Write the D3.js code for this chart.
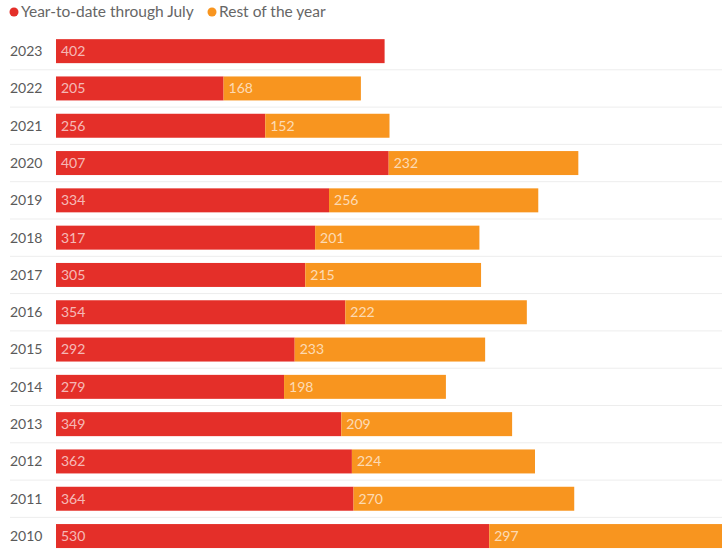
<!DOCTYPE html>
<html>
<head>
<meta charset="utf-8">
<script src="https://cdn.jsdelivr.net/npm/d3@7"></script>
<style>
  html, body { margin: 0; padding: 0; background: #fff; }
  svg { display: block; font-family: Lato, "Open Sans", sans-serif; }
</style>
</head>
<body>
<svg id="chart" width="722" height="549"></svg>
<script>
// Years shown, top to bottom
const years = ["2023","2022","2021","2020","2019","2018","2017","2016","2015","2014","2013","2012","2011","2010"];
// Count through July
const ytdValues = [402, 205, 256, 407, 334, 317, 305, 354, 292, 279, 349, 362, 364, 530];
// Count for the rest of the year (2023 not yet known)
const restValues = [null, 168, 152, 232, 256, 201, 215, 222, 233, 198, 209, 224, 270, 297];
const seriesNames = ["Year-to-date through July", "Rest of the year"];
const seriesColors = ["#e42f29", "#f8951f"];

const W = 722, H = 549;
const svg = d3.select("#chart");

const rows = years.map((y, i) => ({ year: y, ytd: ytdValues[i], rest: restValues[i] }));

const x = d3.scaleLinear().domain([0, 827]).range([56, 732]);
const pad = 0.357;
const y = d3.scaleBand().domain(years).range([32.5, 554.7])
  .paddingInner(pad).paddingOuter(pad / 2);
const step = y.step();

// Faint row separators
svg.append("g").selectAll("line")
  .data(years)
  .join("line")
  .attr("x1", 10).attr("x2", W)
  .attr("y1", d => y(d) + y.bandwidth() + step * pad / 2)
  .attr("y2", d => y(d) + y.bandwidth() + step * pad / 2)
  .attr("stroke", "#ededed").attr("stroke-width", 1);

// Year labels
svg.append("g").selectAll("text")
  .data(years)
  .join("text")
  .attr("x", 10)
  .attr("y", d => y(d) + y.bandwidth() / 2)
  .attr("dy", "0.35em")
  .attr("fill", "#5a5a5a")
  .attr("font-size", 14)
  .text(d => d);

const barG = svg.append("g");
// Year-to-date segment
barG.selectAll("rect.ytd")
  .data(rows)
  .join("rect")
  .attr("class", "ytd")
  .attr("x", x(0))
  .attr("y", d => y(d.year))
  .attr("width", d => x(d.ytd) - x(0))
  .attr("height", y.bandwidth())
  .attr("fill", seriesColors[0]);
// Rest-of-year segment
barG.selectAll("rect.rest")
  .data(rows.filter(d => d.rest != null))
  .join("rect")
  .attr("class", "rest")
  .attr("x", d => x(d.ytd))
  .attr("y", d => y(d.year))
  .attr("width", d => x(d.ytd + d.rest) - x(d.ytd))
  .attr("height", y.bandwidth())
  .attr("fill", seriesColors[1]);

// Value labels inside segments
const labG = svg.append("g").attr("font-size", 14).attr("fill", "#fff").attr("fill-opacity", 0.68);
labG.selectAll("text.ytd")
  .data(rows)
  .join("text")
  .attr("x", x(0) + 5)
  .attr("y", d => y(d.year) + y.bandwidth() / 2)
  .attr("dy", "0.35em")
  .text(d => d.ytd);
labG.selectAll("text.rest")
  .data(rows.filter(d => d.rest != null))
  .join("text")
  .attr("x", d => x(d.ytd) + 5)
  .attr("y", d => y(d.year) + y.bandwidth() / 2)
  .attr("dy", "0.35em")
  .text(d => d.rest);

// Legend
const legend = svg.append("g").attr("font-size", 15.5);
const lx = [14, 212];
seriesNames.forEach((name, i) => {
  const g = legend.append("g").attr("transform", `translate(${lx[i]},12)`);
  g.append("circle").attr("r", 4.5).attr("fill", seriesColors[i]);
  g.append("text").attr("x", 7).attr("dy", "0.35em").attr("fill", "#666").text(name);
});
</script>
</body>
</html>
